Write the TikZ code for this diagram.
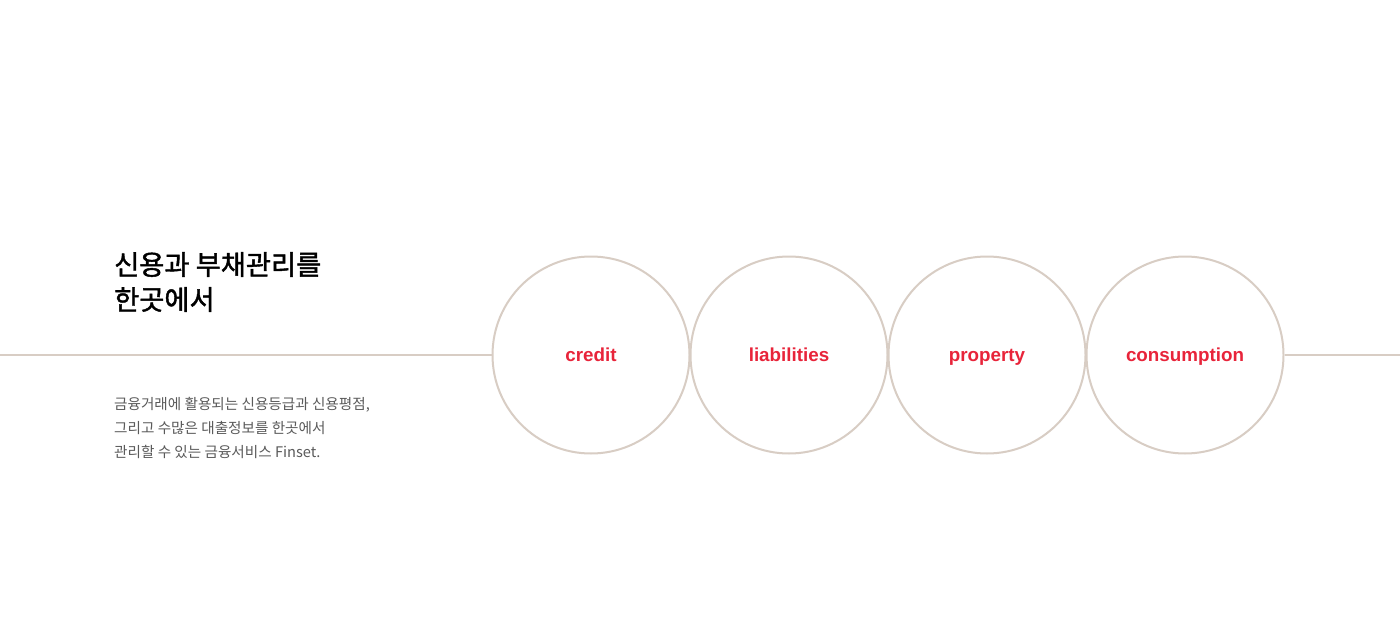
\documentclass[tikz,border=0pt]{standalone}
\usepackage{fontspec}
\setmainfont{Noto Sans}
\newfontfamily\kr{Noto Sans CJK KR}
\newfontfamily\krb{Noto Sans CJK KR}[FakeBold=1.5]
\newfontfamily\lab{Liberation Sans}
\definecolor{beige}{HTML}{D8CDC4}
\definecolor{redlab}{HTML}{E8243A}
\definecolor{bodygray}{HTML}{5A5A5A}
\begin{document}
\begin{tikzpicture}[x=1pt,y=-1pt,
  ring/.style={circle,draw=beige,line width=2pt,minimum size=197pt,inner sep=0pt,
    text height=13.5pt,text depth=0pt,
    font=\lab\bfseries\fontsize{18.8}{21}\selectfont,text=redlab},
  rule/.style={draw=beige,line width=2pt},
  title/.style={anchor=north west,align=left,inner sep=0pt,font=\krb\fontsize{27.3}{35}\selectfont,text=black},
  body/.style={anchor=north west,align=left,inner sep=0pt,font=\kr\fontsize{14.6}{24}\selectfont,text=bodygray}]
\useasboundingbox (0,0) rectangle (1400,626);
\fill[white] (0,0) rectangle (1400,626);
\coordinate (L) at (0,355);
\coordinate (R) at (1400,355);
\node[ring] (c1) at (591,355) {credit};
\node[ring] (c2) at (789,355) {liabilities};
\node[ring] (c3) at (987,355) {property};
\node[ring] (c4) at (1185,355) {consumption};
\draw[rule] (L) -- (c1.west);
\draw[rule] (c4.east) -- (R);
\node[title] (t) at (114,252) {신용과 부채관리를\\한곳에서};
\node[body] (b) at (114,397) {금융거래에 활용되는 신용등급과 신용평점,\\그리고 수많은 대출정보를 한곳에서\\관리할 수 있는 금융서비스 Finset.};
\end{tikzpicture}
\end{document}
